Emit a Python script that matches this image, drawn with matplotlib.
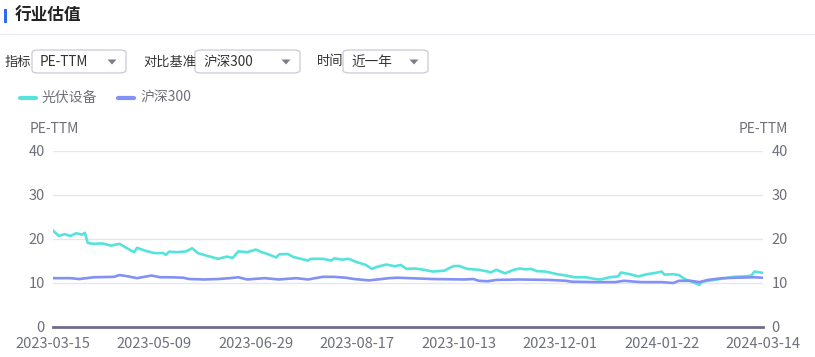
import matplotlib

matplotlib.use("Agg")
import matplotlib.pyplot as plt
from matplotlib.patches import FancyBboxPatch, Polygon, Rectangle
from matplotlib.lines import Line2D

plt.rcParams["font.family"] = ["Noto Sans CJK SC", "DejaVu Sans"]

# trading-day index (0 = 2023-03-15, 245 = 2024-03-14) and PE-TTM values
pv_day = [0, 2, 4, 6, 8, 10, 11, 12, 14, 17, 20, 23, 25, 28, 29, 32, 35, 38, 39, 40,
          43, 46, 48, 50, 53, 57, 60, 62, 64, 67, 70, 72, 74, 77, 78, 81, 83, 88, 89, 93,
          96, 97, 100, 102, 105, 108, 110, 112, 115, 118, 120, 122, 125, 128, 131, 135, 138, 140, 143, 147,
          150, 151, 153, 156, 159, 161, 163, 165, 167, 170, 174, 177, 180, 184, 187, 189, 192, 195, 196, 199,
          202, 205, 208, 210, 211, 214, 216, 218, 220, 223, 224, 228, 232, 235, 239, 241, 242, 245]
pv_pe = [21.9, 20.7, 21.1, 20.7, 21.3, 21.0, 21.4, 19.1, 18.9, 19.0, 18.5, 18.9, 18.1, 17.0, 18.0, 17.3, 16.8, 16.8, 16.4, 17.1,
         17.0, 17.2, 17.9, 16.8, 16.2, 15.5, 16.0, 15.7, 17.2, 17.0, 17.6, 17.0, 16.6, 15.8, 16.5, 16.6, 15.9, 15.1, 15.5, 15.5,
         15.1, 15.6, 15.3, 15.5, 14.7, 14.1, 13.2, 13.7, 14.2, 13.8, 14.1, 13.2, 13.3, 13.0, 12.6, 12.8, 13.8, 13.9, 13.2, 13.0,
         12.6, 12.4, 13.0, 12.2, 13.0, 13.3, 13.1, 13.2, 12.7, 12.6, 12.0, 11.7, 11.3, 11.3, 10.9, 10.8, 11.3, 11.5, 12.4, 12.0,
         11.5, 12.0, 12.3, 12.6, 11.9, 12.0, 11.8, 10.9, 10.4, 9.6, 10.3, 10.7, 11.1, 11.4, 11.5, 11.7, 12.6, 12.3]

hs_day = [0, 6, 9, 14, 21, 23, 26, 29, 34, 37, 41, 45, 47, 52, 57, 61, 64, 67, 73, 78,
          84, 88, 93, 97, 101, 104, 109, 112, 116, 119, 131, 142, 145, 147, 150, 153, 161, 171, 177, 179,
          187, 194, 197, 203, 210, 214, 216, 220, 223, 226, 231, 236, 242, 245]
hs_pe = [11.1, 11.1, 10.9, 11.3, 11.4, 11.8, 11.5, 11.1, 11.7, 11.3, 11.3, 11.2, 10.9, 10.8, 10.9, 11.1, 11.3, 10.8, 11.1, 10.8,
         11.1, 10.8, 11.4, 11.4, 11.2, 10.9, 10.6, 10.8, 11.1, 11.2, 10.9, 10.8, 10.9, 10.5, 10.4, 10.7, 10.8, 10.7, 10.5, 10.3,
         10.2, 10.2, 10.5, 10.2, 10.2, 10.0, 10.5, 10.5, 10.2, 10.7, 11.1, 11.2, 11.3, 11.2]

tick_days = [0, 35, 70, 105, 140, 175, 210, 245]
tick_labels = ["2023-03-15", "2023-05-09", "2023-06-29", "2023-08-17",
               "2023-10-13", "2023-12-01", "2024-01-22", "2024-03-14"]
y_ticks = [0, 10, 20, 30, 40]

W, H = 815, 357
TEAL = "#55e3dc"
BLUE = "#8391f5"
TXT = "#6e7079"


def fx(x):
    return x / W


def fy(y):
    return 1 - y / H


fig = plt.figure(figsize=(W / 100, H / 100), dpi=100)

# header
fig.patches.append(Rectangle((fx(4), fy(23)), fx(3), 14 / H, transform=fig.transFigure,
                             color="#2f6bef", lw=0))
fig.text(fx(15), fy(16), "行业估值", fontsize=12, fontweight="bold", color="#222222", va="center")
fig.add_artist(Line2D([0, 1], [fy(34), fy(34)], color="#ebebf3", lw=1, transform=fig.transFigure))

# selectors
selectors = [("指标", 5, 32, 126, "PE-TTM"),
             ("对比基准", 143, 195, 300, "沪深300"),
             ("时间", 317, 343, 428, "近一年")]
for label, lx, bx0, bx1, value in selectors:
    fig.text(fx(lx), fy(62), label, fontsize=9.5, color="#333333", va="center")
    fig.patches.append(FancyBboxPatch((fx(bx0), fy(73)), fx(bx1 - bx0), 23 / H,
                                      boxstyle="round,pad=0,rounding_size=0.008",
                                      transform=fig.transFigure, fc="white",
                                      ec="#c9c9d6", lw=0.9))
    fig.text(fx(bx0 + 8), fy(62), value, fontsize=9.8, color="#333333", va="center")
    tx = bx1 - 14
    fig.patches.append(Polygon([(fx(tx - 4.5), fy(59.5)), (fx(tx + 4.5), fy(59.5)), (fx(tx), fy(64.5))],
                               closed=True, transform=fig.transFigure, fc="#7d7d8c", lw=0))

# legend
for x0, color, name in [(20, TEAL, "光伏设备"), (118, BLUE, "沪深300")]:
    fig.add_artist(Line2D([fx(x0), fx(x0 + 16)], [fy(98), fy(98)], color=color, lw=3,
                          solid_capstyle="round", transform=fig.transFigure))
    fig.text(fx(x0 + 22), fy(98), name, fontsize=10, color=TXT, va="center")

ax = fig.add_axes([fx(53), fy(327), fx(763 - 53), (327 - 151) / H])
ax.plot(pv_day, pv_pe, color=TEAL, lw=1.9)
ax.plot(hs_day, hs_pe, color=BLUE, lw=1.9)
ax.set_xlim(0, 245)
ax.set_ylim(0, 40)
ax.set_yticks(y_ticks)
ax.set_xticks(tick_days)
ax.set_xticklabels(tick_labels)
ax.grid(axis="y", color="#e6e6f2", lw=1)
ax.set_axisbelow(True)
for side in ["top", "left", "right"]:
    ax.spines[side].set_visible(False)
ax.spines["bottom"].set_color("#6f6b8e")
ax.spines["bottom"].set_linewidth(2)
ax.tick_params(axis="x", length=0, pad=7, labelsize=10.5, labelcolor=TXT)
ax.tick_params(axis="y", length=0, pad=6, labelsize=10.5, labelcolor=TXT,
               labelright=True)

fig.text(fx(54), fy(129), "PE-TTM", fontsize=10, color=TXT, ha="center", va="center")
fig.text(fx(763), fy(129), "PE-TTM", fontsize=10, color=TXT, ha="center", va="center")

fig.savefig("out.png", dpi=100)
plt.close(fig)
